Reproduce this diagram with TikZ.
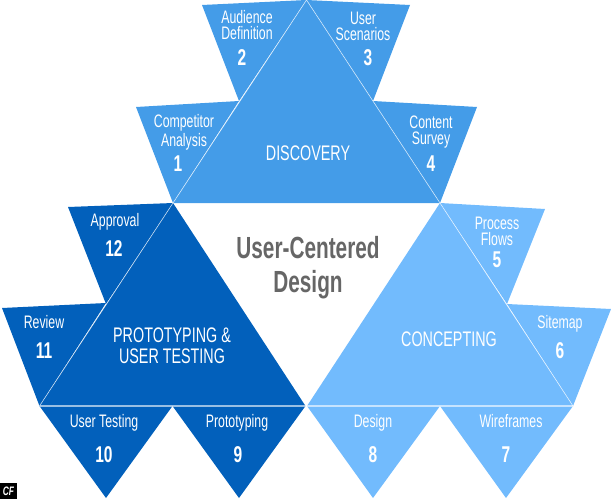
\documentclass[tikz,border=0pt]{standalone}
\usepackage{fontspec}
\setmainfont[FakeStretch=0.68]{Liberation Sans}
\definecolor{discblue}{HTML}{449CE8}
\definecolor{protblue}{HTML}{0260BB}
\definecolor{concblue}{HTML}{72BBFD}
\definecolor{titlegray}{HTML}{666666}
\tikzset{
  stagelabel/.style={text=white,font=\fontsize{12}{12.2}\selectfont,align=center,inner sep=0pt},
  steplabel/.style={text=white,font=\fontsize{10.3}{9.1}\selectfont,align=center,inner sep=0pt},
  stepnum/.style={text=white,font=\fontsize{13}{13}\selectfont\bfseries,inner sep=0pt},
  sepline/.style={draw=white,draw opacity=.7,line width=.35pt},
  baseline/.style={draw=white,draw opacity=.6,line width=.6pt}
}
\begin{document}
\begin{tikzpicture}[x=.02cm,y=-.02cm]
\useasboundingbox (0,0) rectangle (611,500);

% big triangles
\coordinate (discTop) at (306.5,0);
\coordinate (discLeft) at (173,203);
\coordinate (discRight) at (440,203);
\coordinate (protTop) at (173,203);
\coordinate (protLeft) at (39.5,406);
\coordinate (protRight) at (305.5,406);
\coordinate (concTop) at (440,203);
\coordinate (concLeft) at (307,406);
\coordinate (concRight) at (573,406);

\fill[discblue] (discTop)--(discLeft)--(discRight)--cycle;
\fill[protblue] (protTop)--(protLeft)--(protRight)--cycle;
\fill[concblue] (concTop)--(concLeft)--(concRight)--cycle;

% petals
\foreach \col/\pa/\pb/\pc in {
  discblue/{(202,5)}/{(306.5,0)}/{(239,101)},
  discblue/{(306.5,0)}/{(410,5)}/{(373,101)},
  discblue/{(136,107)}/{(239,101)}/{(173,203)},
  discblue/{(373,101)}/{(477,107)}/{(440,203)},
  protblue/{(68,207)}/{(173,203)}/{(106,304)},
  protblue/{(2,308)}/{(106,303)}/{(39.5,406)},
  protblue/{(39.5,406)}/{(172.5,406)}/{(106,498)},
  protblue/{(172.5,406)}/{(305.5,406)}/{(239,498)},
  concblue/{(440,203)}/{(545,209)}/{(507,304)},
  concblue/{(507,304)}/{(611,309)}/{(573,406)},
  concblue/{(307,406)}/{(440,406)}/{(373,498)},
  concblue/{(440,406)}/{(573,406)}/{(506,498)}}
{
    \fill[\col] \pa--\pb--\pc--cycle;
}

% thin lines along the sides
\draw[sepline] (discLeft)--(discTop)--(discRight);
\draw[sepline] (protLeft)--(protTop);
\draw[sepline] (concTop)--(concRight);
\draw[baseline] (protLeft)--(protRight);
\draw[baseline] (concLeft)--(concRight);

% stage names
\node[stagelabel] (discName) at (308,153){DISCOVERY};
\node[stagelabel] (protName) at (172,345.5){PROTOTYPING \&\\USER TESTING};
\node[stagelabel] (concName) at (449,339){CONCEPTING};
\node[inner sep=0pt,align=center,text=titlegray,font=\fontsize{17.4}{19.4}\selectfont\bfseries] (mainName) at (308,268){User-Centered\\Design};

% steps
\foreach \n/\xa/\ya/\xb/\yb/\txt in {
  1/184/132.5/178/164/{Competitor\\Analysis},
  2/247/25/242/58/{Audience\\Definition},
  3/363/26/368/58/{User\\Scenarios},
  4/431/132.5/431/164/{Content\\Survey},
  5/497/231/497/260/{Process\\Flows},
  6/560/323.5/560/351/{Sitemap},
  7/511/421/506/455/{Wireframes},
  8/373/422.5/373/455/{Design},
  9/237/422.5/238/455/{Prototyping},
  10/104/422.5/104/455/{User Testing},
  11/44/322/44/351/{Review},
  12/115/221.5/114/249/{Approval}}
{
    \node[steplabel] (step\n) at (\xa,\ya){\txt};
    \node[stepnum] (num\n) at (\xb,\yb){\n};
}

% corner mark
\fill[black] (0,483) rectangle (17,499);
\node[inner sep=0pt,text=white,font=\fontsize{7}{7}\selectfont\bfseries\itshape] (cfMark) at (8.5,491){CF};
\end{tikzpicture}
\end{document}
